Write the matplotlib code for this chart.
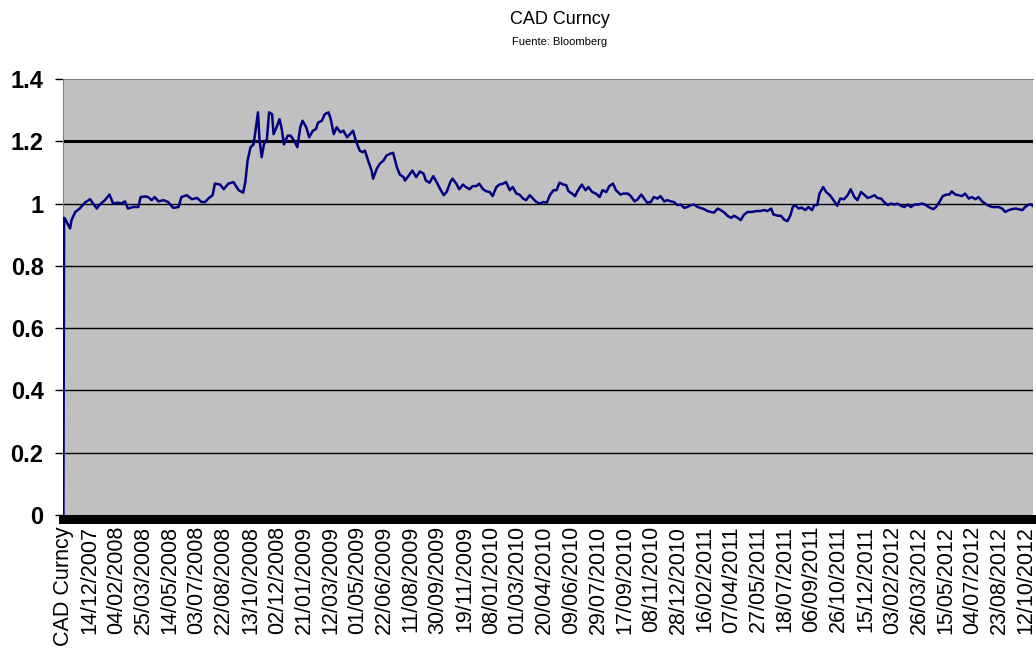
import matplotlib.pyplot as plt
import numpy as np

# trading-day number (0 = header row) and CAD value
day_idx = [0, 1, 2, 9, 11, 16, 22, 29, 36, 40, 45, 49, 56, 62, 67, 74, 78, 83, 87, 94,
           101, 104, 110, 114, 119, 123, 128, 135, 141, 148, 155, 159, 166, 173, 180, 186,
           191, 195, 201, 204, 211, 216, 222, 229,
           236, 242, 245, 248, 252, 256, 259, 262, 264, 267, 270, 274, 277, 281, 283, 287,
           291, 294, 297, 302, 306, 311, 315, 319, 322, 327, 331, 336, 340, 343, 348, 352,
           357, 360, 364, 368, 373, 377, 382, 386, 390, 394, 399, 403, 406, 411, 415, 417,
           422, 426, 431, 435, 440, 444, 449, 453, 458,
           460, 465, 470, 475, 480, 485, 488, 493, 498, 503, 507, 512, 516, 521, 524, 529,
           533, 538, 542, 547, 551, 556, 560, 565, 569, 574, 578, 583, 587, 592, 596, 601,
           605, 610, 614, 619, 623, 628, 633, 637, 642, 646, 651, 655, 660, 664, 668, 673,
           677, 680, 685, 689,
           692, 698, 703, 707, 712, 717, 722, 726, 731, 735, 740, 744, 750, 754, 760, 764,
           769, 773, 778, 782, 786, 791, 795, 800, 804, 809, 813, 818, 822, 827, 831, 836,
           840, 845, 849, 854, 858, 863, 867, 872, 876, 881, 885, 890, 894, 899, 903, 908, 912,
           916, 921, 927, 933, 938, 944, 948, 953, 956, 962, 966, 971, 975, 979, 982, 985,
           990, 994, 999, 1003, 1008, 1011, 1015, 1018, 1023, 1027, 1032, 1036, 1042, 1046,
           1051, 1056, 1060, 1065, 1069, 1074, 1078, 1083, 1087, 1092, 1096, 1101, 1105, 1110,
           1114, 1119, 1123, 1128, 1132, 1137, 1141, 1146,
           1151, 1156, 1160, 1165, 1171, 1175, 1180, 1184, 1189, 1193, 1196, 1201, 1205, 1210,
           1214, 1219, 1223, 1228, 1232, 1237, 1241, 1246, 1250, 1255, 1259, 1264, 1268, 1273,
           1277, 1282, 1286, 1291, 1295, 1300, 1304, 1305]

cad = [0.0, 0.954, 0.952, 0.92, 0.947, 0.973, 0.984, 1.003, 1.014, 1.0, 0.984, 0.997, 1.011,
       1.029, 1.0, 1.003, 1.0, 1.007, 0.984, 0.989, 0.989, 1.021, 1.023, 1.021, 1.011, 1.021,
       1.007, 1.011, 1.005, 0.986, 0.989, 1.021, 1.027, 1.014, 1.018, 1.005, 1.005, 1.016,
       1.027, 1.064, 1.061, 1.046, 1.064, 1.069,
       1.043, 1.035, 1.069, 1.138, 1.181, 1.19, 1.239, 1.293, 1.207, 1.149,
       1.19, 1.207, 1.293, 1.287, 1.223, 1.245, 1.271, 1.239, 1.19, 1.218,
       1.218, 1.2, 1.181, 1.245, 1.266, 1.245, 1.213, 1.234, 1.239, 1.26,
       1.266, 1.287, 1.293, 1.271, 1.223, 1.245, 1.229, 1.234, 1.213, 1.223,
       1.234, 1.2, 1.17, 1.165, 1.17, 1.133, 1.106, 1.08, 1.112, 1.128,
       1.138, 1.154, 1.16, 1.163, 1.117, 1.093, 1.085,
       1.074, 1.09, 1.106, 1.085, 1.103, 1.096, 1.074, 1.067, 1.088, 1.067,
       1.048, 1.027, 1.037, 1.069, 1.08, 1.064, 1.046, 1.061, 1.053, 1.046,
       1.056, 1.056, 1.064, 1.046, 1.04, 1.037, 1.024, 1.053, 1.061, 1.064,
       1.069, 1.043, 1.053, 1.032, 1.029, 1.016, 1.011, 1.027, 1.014, 1.005,
       1.0, 1.005, 1.003, 1.027, 1.043, 1.043, 1.067, 1.061, 1.059, 1.04,
       1.032, 1.024,
       1.039, 1.061, 1.043, 1.053, 1.037, 1.032, 1.021, 1.043, 1.037, 1.056,
       1.064, 1.043, 1.029, 1.032, 1.032, 1.024, 1.007, 1.013, 1.029, 1.016,
       1.003, 1.005, 1.021, 1.016, 1.024, 1.007, 1.011, 1.007, 1.005, 0.995,
       0.997, 0.986, 0.989, 0.995, 0.997, 0.989, 0.986, 0.982, 0.976, 0.973,
       0.971, 0.984, 0.979, 0.971, 0.961, 0.954, 0.961, 0.954, 0.947,
       0.963, 0.973, 0.973, 0.976, 0.976, 0.979, 0.976, 0.984, 0.965, 0.961,
       0.961, 0.947, 0.944, 0.963, 0.989, 0.995, 0.984, 0.987, 0.979, 0.989,
       0.979, 0.995, 0.995, 1.032, 1.053, 1.037, 1.027, 1.014, 0.993, 1.016,
       1.014, 1.027, 1.046, 1.021, 1.011, 1.037, 1.029, 1.018, 1.021, 1.027,
       1.018, 1.016, 1.005, 0.995, 1.0, 0.997, 1.0, 0.993, 0.989, 0.997,
       0.989, 0.997,
       0.997, 1.0, 0.997, 0.989, 0.982, 0.989, 1.007, 1.024, 1.029, 1.029,
       1.039, 1.029, 1.027, 1.024, 1.032, 1.016, 1.021, 1.014, 1.021, 1.007,
       1.0, 0.993, 0.989, 0.989, 0.989, 0.984, 0.973, 0.979, 0.982, 0.984,
       0.982, 0.979, 0.989, 0.997, 0.997, 0.993]

tick_labels = ['CAD Curncy', '14/12/2007', '04/02/2008', '25/03/2008', '14/05/2008',
               '03/07/2008', '22/08/2008', '13/10/2008', '02/12/2008', '21/01/2009',
               '12/03/2009', '01/05/2009', '22/06/2009', '11/08/2009', '30/09/2009',
               '19/11/2009', '08/01/2010', '01/03/2010', '20/04/2010', '09/06/2010',
               '29/07/2010', '17/09/2010', '08/11/2010', '28/12/2010', '16/02/2011',
               '07/04/2011', '27/05/2011', '18/07/2011', '06/09/2011', '26/10/2011',
               '15/12/2011', '03/02/2012', '26/03/2012', '15/05/2012', '04/07/2012',
               '23/08/2012', '12/10/2012']
label_every = 36     # excel shows one label per 36 categories
n_days = 1306

plt.rcParams['font.family'] = ['Liberation Sans', 'DejaVu Sans']

fig = plt.figure(figsize=(10.36, 6.58), dpi=100)
ax = fig.add_axes([63/1036, 1 - 515/658, 970/1036, 436/658])
ax.set_facecolor('#c0c0c0')

ax.plot(day_idx, cad, color='#000080', lw=1.8, zorder=3)

ax.set_xlim(-0.5, n_days - 0.5)
ax.set_ylim(0, 1.4)
yt = np.arange(0, 1.41, 0.2)
for v in yt[1:-1]:
    ax.axhline(v, color='black', lw=2.2 if abs(v - 1.2) < 1e-6 else 1.0, zorder=1)

ax.tick_params(axis='x', length=0, pad=5, labelrotation=90, labelsize=15.5)
ax.tick_params(axis='y', length=6, width=1, pad=8, labelsize=17)
ax.set_yticks(yt)
ax.set_yticklabels(['0', '0.2', '0.4', '0.6', '0.8', '1', '1.2', '1.4'])
ax.set_xticks(np.arange(len(tick_labels)) * label_every)
ax.set_xticklabels(tick_labels)
for lab in ax.get_xticklabels() + ax.get_yticklabels():
    lab.set_fontweight('bold')

ax.spines['right'].set_visible(False)
ax.spines['top'].set_color('#808080')
ax.spines['left'].set_color('#808080')
ax.spines['bottom'].set_linewidth(6.5)
ax.spines['bottom'].set_position(('outward', 3))
ax.spines['bottom'].set_color('black')

fig.text(560/1036, 1 - 20/658, 'CAD Curncy', ha='center', va='center', fontsize=13)
fig.text(560/1036, 1 - 42/658, 'Fuente: Bloomberg', ha='center', va='center', fontsize=8)

fig.savefig('out.png', dpi=100)
